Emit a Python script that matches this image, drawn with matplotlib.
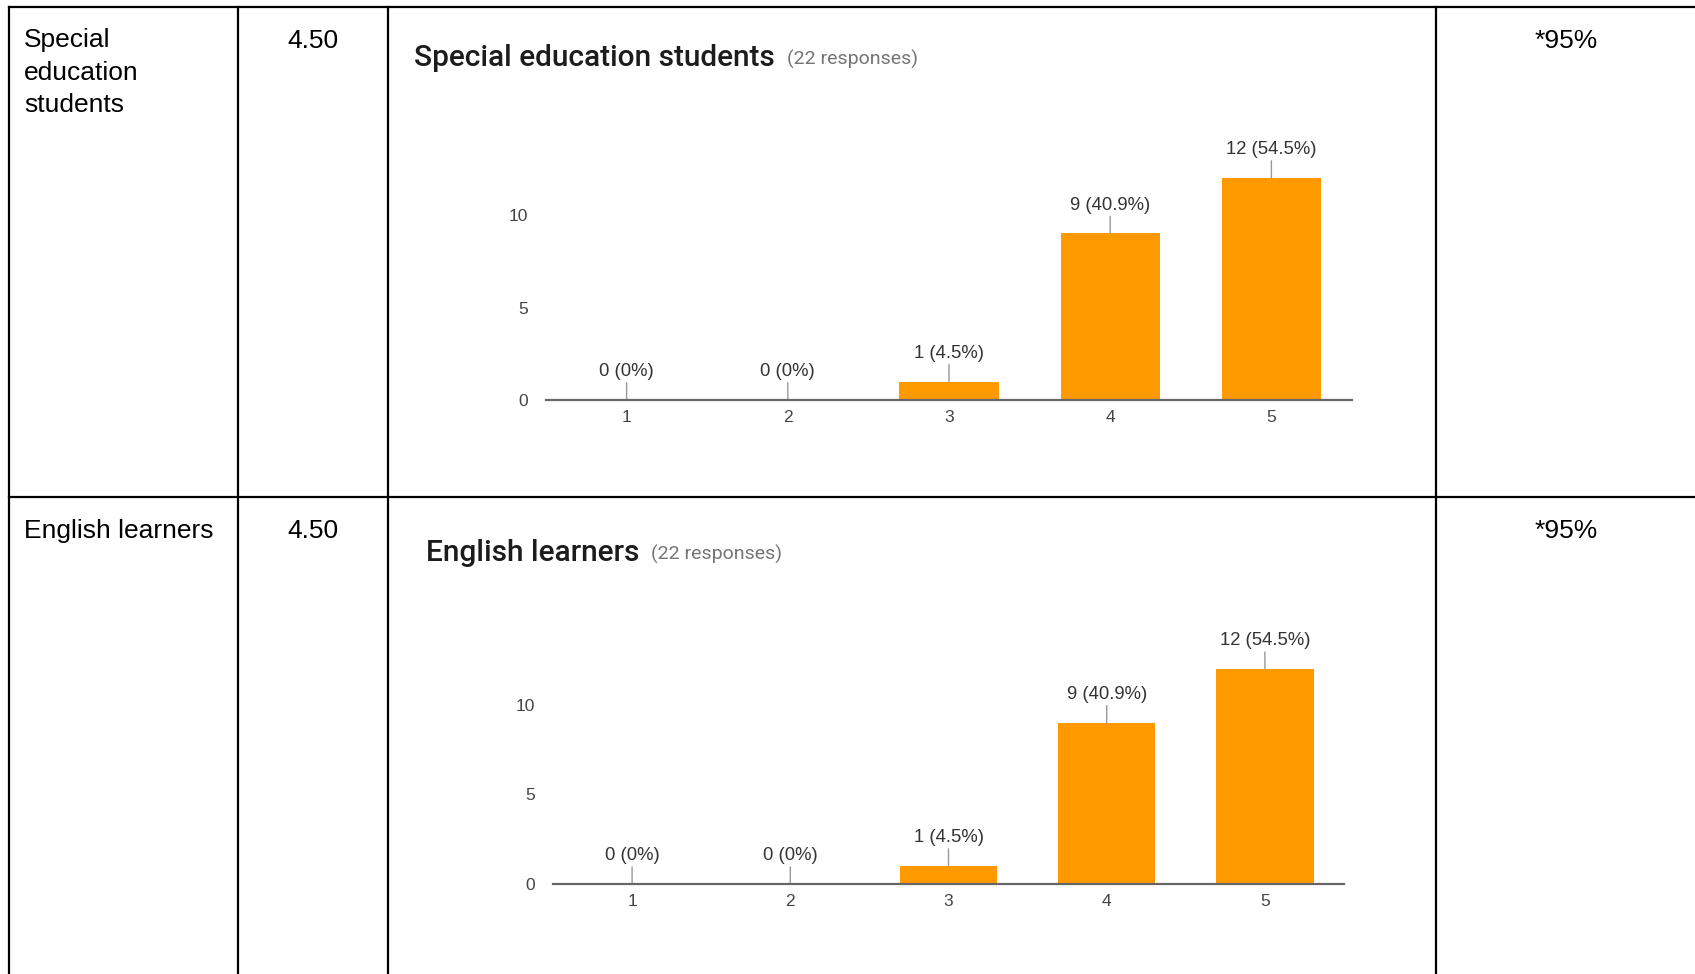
import matplotlib.pyplot as plt
import numpy as np

# table content
row_labels = [["Special", "education", "students"], ["English learners"]]
mean_scores = ["4.50", "4.50"]
agree_pcts = ["*95%", "*95%"]

# chart content
chart_titles = ["Special education students", "English learners"]
responses = [22, 22]
categories = ["1", "2", "3", "4", "5"]
special_counts = [0, 0, 1, 9, 12]
special_pcts = [0, 0, 4.5, 40.9, 54.5]
english_counts = [0, 0, 1, 9, 12]
english_pcts = [0, 0, 4.5, 40.9, 54.5]
y_ticks = [0, 5, 10]

W, H = 1695, 974
fig = plt.figure(figsize=(W / 100, H / 100), dpi=100)
fig.patch.set_facecolor("white")

bg = fig.add_axes([0, 0, 1, 1])
bg.set_xlim(0, W)
bg.set_ylim(H, 0)
bg.axis("off")

# table grid (pixels)
col_x = [8.5, 238, 388, 1436]
row_y = [6.5, 497]
for x in col_x:
    bg.plot([x, x], [row_y[0], H], color="black", lw=1.6, clip_on=False)
for y in row_y:
    bg.plot([col_x[0], W], [y, y], color="black", lw=1.6, clip_on=False)

cell_font = dict(family=["Liberation Sans", "DejaVu Sans"], size=19, color="black")
for r, y0 in enumerate(row_y):
    base = y0 + 41
    for i, line in enumerate(row_labels[r]):
        bg.text(24, base + i * 32.5, line, va="baseline", ha="left", **cell_font)
    bg.text(313, base, mean_scores[r], va="baseline", ha="center", **cell_font)
    bg.text(1566, base, agree_pcts[r], va="baseline", ha="center", **cell_font)

# chart titles
title_pos = [(414, 66), (426, 561)]
fig.canvas.draw()
renderer = fig.canvas.get_renderer()
for (tx, ty), title, n in zip(title_pos, chart_titles, responses):
    t = bg.text(tx, ty, title, va="baseline", ha="left",
                family=["Roboto", "DejaVu Sans"], size=21.5, weight="medium",
                color="#1c1c1c")
    bb = t.get_window_extent(renderer)
    sub_x = bb.x1 + 12
    bg.text(sub_x, ty - 1, f"({n} responses)", va="baseline", ha="left",
            family=["Roboto", "DejaVu Sans"], size=14, color="#757575")


def bar_panel(left, right, base, px_per_unit, counts, pcts):
    ymax = 14
    height = ymax * px_per_unit
    ax = fig.add_axes([left / W, (H - base) / H, (right - left) / W, height / H])
    x = np.arange(1, len(categories) + 1)
    ax.bar(x, counts, width=0.615, color="#ff9900", linewidth=0, zorder=2)
    ax.set_xlim(0.5, len(categories) + 0.5)
    ax.set_ylim(0, ymax)
    ax.patch.set_alpha(0)
    for s in ["top", "right", "left"]:
        ax.spines[s].set_visible(False)
    ax.spines["bottom"].set_color("#666666")
    ax.spines["bottom"].set_linewidth(1.6)
    ax.spines["bottom"].set_zorder(3)
    ax.set_xticks(x)
    ax.set_xticklabels(categories)
    ax.set_yticks(y_ticks)
    ax.tick_params(axis="both", length=0, labelsize=12.5, labelcolor="#444444")
    ax.tick_params(axis="x", pad=7)
    ax.tick_params(axis="y", pad=13)
    for lab in ax.get_xticklabels() + ax.get_yticklabels():
        lab.set_family(["Liberation Sans", "DejaVu Sans"])
    for xi, c, p in zip(x, counts, pcts):
        ax.annotate(f"{c} ({p:g}%)", xy=(xi, c), xytext=(0, 20),
                    textcoords="offset pixels", ha="center", va="bottom",
                    fontsize=13.3, color="#333333",
                    family=["Liberation Sans", "DejaVu Sans"],
                    arrowprops=dict(arrowstyle="-", color="#999999", lw=1,
                                    shrinkA=0, shrinkB=0))
    return ax


bar_panel(546, 1352, 400, 18.5, special_counts, special_pcts)
bar_panel(553, 1344, 884, 17.9, english_counts, english_pcts)

fig.savefig("out.png", dpi=100)
